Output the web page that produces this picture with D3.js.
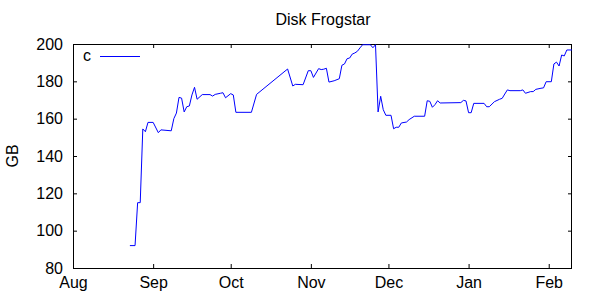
<!DOCTYPE html>
<html lang="en">
<head>
<meta charset="UTF-8">
<title>Disk Frogstar</title>
<style>
  body { margin: 0; background: #fff; }
  svg { display: block; font-family: "Liberation Sans", Arial, sans-serif; }
</style>
</head>
<body>
<div id="chart"></div>
<script src="https://d3js.org/d3.v7.min.js"></script>
<script>
// disk usage samples
const dates = [
  "2008-08-23","2008-08-25","2008-08-26","2008-08-27","2008-08-28","2008-08-29","2008-08-30",
  "2008-09-01","2008-09-03","2008-09-04","2008-09-08","2008-09-09","2008-09-10","2008-09-11",
  "2008-09-12","2008-09-13","2008-09-14","2008-09-15","2008-09-16","2008-09-17","2008-09-18",
  "2008-09-20","2008-09-23","2008-09-24","2008-09-25","2008-09-27","2008-09-28","2008-09-29",
  "2008-10-01","2008-10-02","2008-10-03","2008-10-09","2008-10-11","2008-10-23","2008-10-25",
  "2008-10-26","2008-10-29","2008-10-31","2008-11-01","2008-11-02","2008-11-04","2008-11-05",
  "2008-11-06","2008-11-07","2008-11-08","2008-11-10","2008-11-12","2008-11-13","2008-11-14",
  "2008-11-15","2008-11-16","2008-11-17","2008-11-18","2008-11-19","2008-11-20","2008-11-21",
  "2008-11-24","2008-11-25","2008-11-26","2008-11-27","2008-11-28","2008-11-29","2008-11-30",
  "2008-12-02","2008-12-03","2008-12-04","2008-12-05","2008-12-06","2008-12-08","2008-12-09",
  "2008-12-11","2008-12-15","2008-12-16","2008-12-17","2008-12-18","2008-12-19","2008-12-20",
  "2008-12-21","2008-12-29","2008-12-30","2008-12-31","2009-01-01","2009-01-02","2009-01-03",
  "2009-01-07","2009-01-08","2009-01-09","2009-01-11","2009-01-13","2009-01-14","2009-01-15",
  "2009-01-16","2009-01-17","2009-01-21","2009-01-22","2009-01-23","2009-01-25","2009-01-26",
  "2009-01-27","2009-01-29","2009-01-30","2009-01-31","2009-02-02","2009-02-03","2009-02-04",
  "2009-02-05","2009-02-06","2009-02-07","2009-02-08","2009-02-10"
];
const gb = [
  92, 92, 115, 115, 154.5, 153, 158,
  158, 152.5, 154, 153.5, 160, 163, 171.4,
  171, 163.6, 166.4, 166.8, 172.7, 176.8, 170.4,
  172.9, 172.9, 172.1, 173, 173.6, 173.9, 171.2,
  173.4, 172.7, 163.4, 163.4, 173, 186.6, 177.5,
  178.4, 178.2, 185.7, 185.7, 182.1, 186.8, 186.3,
  186.5, 187, 179.6, 180.3, 181.4, 188.6, 189.3,
  192.1, 192.5, 194.6, 195.2, 196.1, 197.9, 199.6,
  199.6, 198, 199.6, 163.6, 172, 164.8, 161.8,
  161.8, 154.6, 155.4, 155.4, 157.7, 158.2, 159.5,
  161.3, 161.3, 169.6, 169.3, 166.1, 167.5, 169.6,
  168.4, 168.6, 169.8, 169.5, 163.2, 163.2, 168.2,
  168.2, 166.4, 166.4, 169.1, 170.4, 170.9, 173.2,
  175.4, 175, 175, 175.4, 173.6, 174.5, 174.5,
  175.7, 176.3, 176.5, 179.8, 179.8, 189.3, 190.3,
  188.2, 194.1, 193.6, 196.8, 196.8
];
const xDomain = ["2008-08-01", "2009-02-10"];
const xTicks = ["2008-08-01","2008-09-01","2008-10-01","2008-11-01","2008-12-01","2009-01-01","2009-02-01"];
const yTicks = [80, 100, 120, 140, 160, 180, 200];
const seriesName = "c";

const parse = d3.utcParse("%Y-%m-%d");
const data = dates.map((d, i) => ({date: parse(d), value: gb[i]}));

const width = 600, height = 300;
const plot = {left: 73, right: 572, top: 44, bottom: 268};

const x = d3.scaleUtc().domain(xDomain.map(parse)).range([plot.left, plot.right]);
const y = d3.scaleLinear().domain([80, 200]).range([plot.bottom, plot.top]);

const svg = d3.select("#chart").append("svg")
    .attr("width", width)
    .attr("height", height);

svg.append("rect").attr("width", width).attr("height", height).attr("fill", "#fff");

svg.append("clipPath").attr("id", "plotclip")
  .append("rect")
    .attr("x", plot.left).attr("y", plot.top)
    .attr("width", plot.right - plot.left).attr("height", plot.bottom - plot.top);

// axes, gnuplot style: ticks point inward and are mirrored
const fontSize = 16;
function style(g) {
  g.select(".domain").remove();
  g.selectAll(".tick line").attr("stroke", "#000");
  g.selectAll("text").attr("font-size", fontSize).attr("fill", "#000");
  g.attr("font-family", null);
}

svg.append("g")
    .attr("transform", `translate(0,${plot.bottom})`)
    .call(d3.axisBottom(x).tickValues(xTicks.map(parse)).tickFormat(d3.utcFormat("%b"))
      .tickSize(-4).tickPadding(9))
    .call(style);

svg.append("g")
    .attr("transform", `translate(0,${plot.top})`)
    .call(d3.axisTop(x).tickValues(xTicks.map(parse)).tickFormat("").tickSize(-4))
    .call(style);

svg.append("g")
    .attr("transform", `translate(${plot.left},0)`)
    .call(d3.axisLeft(y).tickValues(yTicks).tickSize(-4).tickPadding(10))
    .call(style);

svg.append("g")
    .attr("transform", `translate(${plot.right},0)`)
    .call(d3.axisRight(y).tickValues(yTicks).tickFormat("").tickSize(-4))
    .call(style);

svg.append("rect")
    .attr("x", plot.left + 0.5).attr("y", plot.top + 0.5)
    .attr("width", plot.right - plot.left - 1).attr("height", plot.bottom - plot.top)
    .attr("fill", "none")
    .attr("stroke", "#000");

// the series
const line = d3.line()
    .x(d => x(d.date))
    .y(d => y(d.value));

svg.append("path")
    .datum(data)
    .attr("clip-path", "url(#plotclip)")
    .attr("fill", "none")
    .attr("stroke", "#0000ff")
    .attr("stroke-width", 1)
    .attr("d", line);

// legend
svg.append("text")
    .attr("x", 83).attr("y", 61)
    .attr("font-size", fontSize)
    .text(seriesName);
svg.append("line")
    .attr("x1", 100).attr("x2", 140)
    .attr("y1", 56.5).attr("y2", 56.5)
    .attr("stroke", "#0000ff");

// title and y label
svg.append("text")
    .attr("x", 323).attr("y", 25)
    .attr("text-anchor", "middle")
    .attr("font-size", fontSize)
    .text("Disk Frogstar");

svg.append("text")
    .attr("transform", "translate(18,156) rotate(-90)")
    .attr("text-anchor", "middle")
    .attr("font-size", fontSize)
    .text("GB");
</script>
</body>
</html>
